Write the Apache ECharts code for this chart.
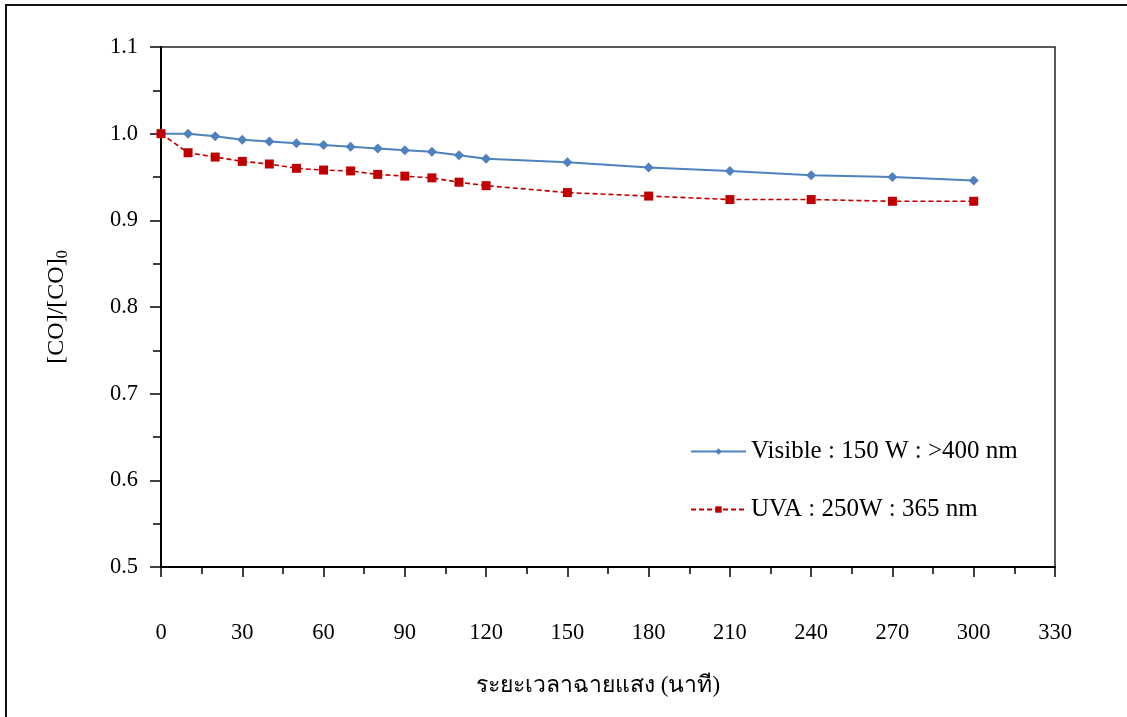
<!DOCTYPE html>
<html>
<head>
<meta charset="utf-8">
<script src="https://cdn.jsdelivr.net/npm/echarts@6/dist/echarts.min.js"></script>
<style>
  html, body { margin: 0; padding: 0; background: #fff; }
  #chart { width: 1127px; height: 717px; }
</style>
</head>
<body>
<div id="chart"></div>
<script>
// irradiation time (minutes)
var times = [0, 10, 20, 30, 40, 50, 60, 70, 80, 90, 100, 110, 120, 150, 180, 210, 240, 270, 300];
var visible = [1.000, 1.000, 0.997, 0.993, 0.991, 0.989, 0.987, 0.985, 0.983, 0.981, 0.979, 0.975, 0.971, 0.967, 0.961, 0.957, 0.952, 0.950, 0.946];
var uva = [1.000, 0.978, 0.973, 0.968, 0.965, 0.960, 0.958, 0.957, 0.953, 0.951, 0.949, 0.944, 0.940, 0.932, 0.928, 0.924, 0.924, 0.922, 0.922];
var seriesNames = ['Visible : 150 W : >400 nm', 'UVA : 250W : 365 nm'];
var xTitle = 'ระยะเวลาฉายแสง (นาที)';

var font = "'Liberation Serif', 'Times New Roman', 'DejaVu Serif', serif";

function pairs(ys) {
    return times.map(function (t, i) { return [t, ys[i]]; });
}

var myChart = echarts.init(document.getElementById('chart'));

var option = {
    backgroundColor: '#fff',
    animation: false,
    textStyle: { fontFamily: font, color: '#000' },
    graphic: [{
        type: 'rect',
        shape: { x: 6, y: 5, width: 1130, height: 730 },
        style: { fill: 'none', stroke: '#111', lineWidth: 2 },
        silent: true
    }],
    grid: {
        left: 161,
        right: 72,
        top: 47,
        bottom: 150,
        show: true,
        borderColor: '#222',
        borderWidth: 1.5
    },
    legend: {
        orient: 'vertical',
        left: 685,
        top: 434,
        itemWidth: 55,
        itemHeight: 8,
        itemGap: 33,
        textStyle: { fontFamily: font, fontSize: 25, color: '#000' },
        data: seriesNames
    },
    xAxis: {
        type: 'value',
        min: 0,
        max: 330,
        interval: 30,
        name: xTitle,
        nameLocation: 'middle',
        nameGap: 107,
        nameTextStyle: { fontFamily: font, fontSize: 23, color: '#000', padding: [0, 20, 0, 0] },
        axisLine: { onZero: false, lineStyle: { color: '#000', width: 2 } },
        axisTick: { inside: false, length: 10, lineStyle: { color: '#000', width: 1.5 } },
        minorTick: { show: true, splitNumber: 2, length: 7, lineStyle: { color: '#000', width: 1.5 } },
        splitLine: { show: false },
        axisLabel: { margin: 55, fontSize: 22.5, color: '#000', fontFamily: font }
    },
    yAxis: {
        type: 'value',
        min: 0.5,
        max: 1.1,
        interval: 0.1,
        name: '{n|[CO]/[CO]}{s|0}',
        nameLocation: 'middle',
        nameGap: 90,
        nameRotate: 90,
        nameTextStyle: {
            rich: {
                n: { fontFamily: font, fontSize: 24, color: '#000' },
                s: { fontFamily: font, fontSize: 16, color: '#000', padding: [12, 0, 0, 0] }
            }
        },
        axisLine: { lineStyle: { color: '#000', width: 2 } },
        axisTick: { inside: false, length: 11, lineStyle: { color: '#000', width: 1.5 } },
        minorTick: { show: true, splitNumber: 2, length: 8, lineStyle: { color: '#000', width: 1.5 } },
        splitLine: { show: false },
        axisLabel: {
            margin: 23,
            fontSize: 22.5,
            color: '#000',
            fontFamily: font,
            formatter: function (v) { return v.toFixed(1); }
        }
    },
    series: [
        {
            name: seriesNames[0],
            type: 'line',
            data: pairs(visible),
            symbol: 'diamond',
            symbolSize: 10,
            itemStyle: { color: '#4F81BD' },
            lineStyle: { color: '#4F81BD', width: 2 },
            z: 2
        },
        {
            name: seriesNames[1],
            type: 'line',
            data: pairs(uva),
            symbol: 'rect',
            symbolSize: 9,
            itemStyle: { color: '#C00000' },
            lineStyle: { color: '#C00000', width: 1.6, type: [5, 3] },
            z: 3
        }
    ]
};
myChart.setOption(option);
</script>
</body>
</html>
